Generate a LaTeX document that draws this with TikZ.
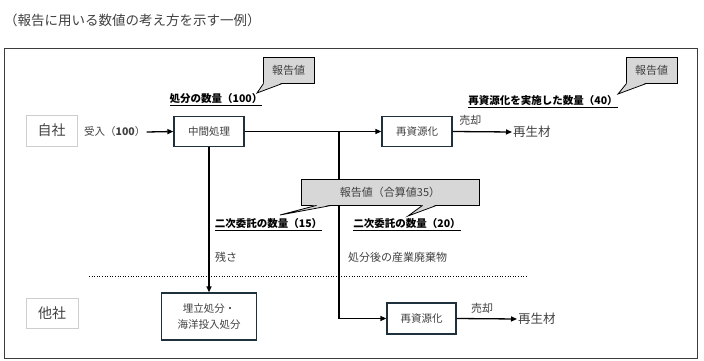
\documentclass[tikz,border=0pt]{standalone}
\usepackage{fontspec}
\setmainfont{Noto Sans CJK JP}
\usepackage{xcolor}
\usepackage{tikz}
\usetikzlibrary{arrows.meta, positioning, calc}
\definecolor{grisTexte}{RGB}{64, 64, 64}
\definecolor{cadreFonce}{RGB}{30, 48, 60}
\definecolor{grisBord}{RGB}{205, 205, 205}
\definecolor{grisCadre}{RGB}{60, 60, 60}
\definecolor{grisBulle}{RGB}{215, 215, 215}

\begin{document}
\begin{tikzpicture}[x=1pt, y=-1pt,
  proc/.style={rectangle, draw=cadreFonce, line width=1.3pt, fill=white,
    minimum width=70pt, minimum height=30pt, align=center, inner sep=2pt,
    font=\fontsize{10.5}{16}\selectfont, text=grisTexte},
  side/.style={rectangle, draw=grisBord, line width=0.8pt,
    minimum width=51pt, minimum height=31pt,
    font=\fontsize{14}{16}\selectfont, text=grisTexte},
  rep/.style={rectangle, draw=black, line width=0.8pt, fill=grisBulle,
    minimum height=26pt, font=\fontsize{11}{13}\selectfont, text=grisTexte},
  qty/.style={font=\bfseries\fontsize{10.5}{12}\selectfont, inner sep=1pt},
  lbl/.style={font=\fontsize{11}{12}\selectfont, text=grisTexte, inner sep=1pt},
  prod/.style={font=\fontsize{12.5}{14}\selectfont, text=grisTexte, inner sep=1pt},
  arr/.style={-{Triangle[length=6pt, width=5pt]}, line width=1.3pt},
]
\useasboundingbox (0,0) rectangle (704,361);
\node[anchor=west, font=\fontsize{13.5}{15}\selectfont, text=grisTexte, inner sep=0pt]
  (titre) at (4,20) {（報告に用いる数値の考え方を示す一例）};
\draw[grisCadre, line width=0.9pt] (4,48) rectangle (697,358);
\draw[dotted, line width=0.6pt] (89,276) -- (528,276);

% companies
\node[side]                                (jisha) at (51.5,130.5) {自社};
\node[side, minimum width=52pt, minimum height=30pt] (tasha) at (52,313) {他社};

% process boxes
\node[proc]                                (chukan)  at (209,131.5) {中間処理};
\node[proc]                                (shigen1) at (417,131.5) {再資源化};
\node[proc, minimum width=95pt, minimum height=47pt]
  (umetate) at (209,316.5) {埋立処分・\\海洋投入処分};
\node[proc, minimum width=69pt, minimum height=31pt] (shigen2) at (421.5,318.5) {再資源化};

\node[lbl, anchor=west, font=\fontsize{10.5}{12}\selectfont] (ukeire) at (83,132) {受入（\textbf{100}）};
\node[prod, anchor=west] (zai1) at (512,132) {再生材};
\node[prod, anchor=west] (zai2) at (517,319) {再生材};
\coordinate (bunki) at (339,131.5);

% flows
\draw[arr] (ukeire.east) -- (chukan.west);
\draw[arr] (chukan.east) -- (shigen1.west);
\draw[arr] (bunki) |- (shigen2.west);
\draw[arr] (chukan.south) -- (umetate.north);
\draw[arr] (shigen1.east) -- (zai1.west)
  node[lbl, pos=0.3, above=5pt] (baikyaku1) {売却};
\draw[arr] (shigen2.east) -- (zai2.west)
  node[lbl, pos=0.42, above=4pt] (baikyaku2) {売却};

\node[lbl, anchor=west] (zansa)  at (214,257) {残さ};
\node[lbl, anchor=west] (haiki)  at (347,257) {処分後の産業廃棄物};

% quantities
\node[qty] (q1) at (216,100) {\underline{処分の数量（100）}};
\node[qty] (q2) at (543,102) {\underline{再資源化を実施した数量（40）}};
\node[qty] (q3) at (268.5,225) {\underline{二次委託の数量（15）}};
\node[qty] (q4) at (407,225) {\underline{二次委託の数量（20）}};

% callouts
\coordinate (pointe1) at (257,93);
\coordinate (pointe2) at (280,215);
\coordinate (pointe3) at (408,216);
\coordinate (pointe4) at (618,94);
\node[rep, minimum width=51pt]  (rep1) at (288.5,70) {報告値};
\node[rep, minimum width=178pt] (rep2) at (390,192) {報告値（合算値35）};
\node[rep, minimum width=51pt]  (rep3) at (651.5,70) {報告値};
\fill[grisBulle] ($(rep1.south west)+(1,-0.7)$) -- (pointe1) -- ($(rep1.south west)+(20,-0.7)$) -- cycle;
\draw[line width=0.8pt] ($(rep1.south west)+(1,0)$) -- (pointe1) -- ($(rep1.south west)+(20,0)$);
\fill[grisBulle] ($(rep2.south west)+(16,-0.7)$) -- (pointe2) -- ($(rep2.south west)+(31,-0.7)$) -- cycle;
\draw[line width=0.8pt] ($(rep2.south west)+(16,0)$) -- (pointe2) -- ($(rep2.south west)+(31,0)$);
\fill[grisBulle] ($(rep2.south west)+(122,-0.7)$) -- (pointe3) -- ($(rep2.south west)+(136,-0.7)$) -- cycle;
\draw[line width=0.8pt] ($(rep2.south west)+(122,0)$) -- (pointe3) -- ($(rep2.south west)+(136,0)$);
\fill[grisBulle] ($(rep3.south west)+(1,-0.7)$) -- (pointe4) -- ($(rep3.south west)+(21,-0.7)$) -- cycle;
\draw[line width=0.8pt] ($(rep3.south west)+(1,0)$) -- (pointe4) -- ($(rep3.south west)+(21,0)$);
\end{tikzpicture}
\end{document}
